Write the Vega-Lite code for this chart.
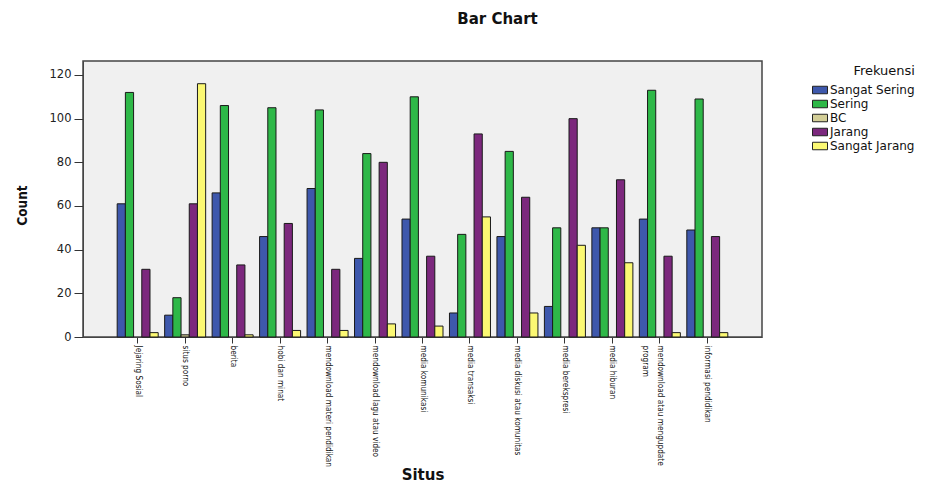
{
  "$schema": "https://vega.github.io/schema/vega-lite/v6.json",
  "width": 679,
  "height": 276,
  "autosize": {"type": "none"},
  "padding": {"left": 83, "top": 61, "right": 190, "bottom": 146},
  "background": "white",
  "title": {
    "text": "Bar Chart",
    "anchor": "middle",
    "frame": "group",
    "dx": 75,
    "offset": 34,
    "font": "DejaVu Sans",
    "fontSize": 15,
    "fontWeight": "bold",
    "color": "#111111"
  },
  "config": {
    "view": {"fill": "#F0F0F0", "stroke": "#444444", "strokeWidth": 1.5},
    "axis": {"grid": false}
  },
  "data": {
    "values": [
      {"situs": "Jejaring Sosial", "frek": "Sangat Sering", "count": 61},
      {"situs": "Jejaring Sosial", "frek": "Sering", "count": 112},
      {"situs": "Jejaring Sosial", "frek": "Jarang", "count": 31},
      {"situs": "Jejaring Sosial", "frek": "Sangat Jarang", "count": 2},
      {"situs": "situs porno", "frek": "Sangat Sering", "count": 10},
      {"situs": "situs porno", "frek": "Sering", "count": 18},
      {"situs": "situs porno", "frek": "BC", "count": 1},
      {"situs": "situs porno", "frek": "Jarang", "count": 61},
      {"situs": "situs porno", "frek": "Sangat Jarang", "count": 116},
      {"situs": "berita", "frek": "Sangat Sering", "count": 66},
      {"situs": "berita", "frek": "Sering", "count": 106},
      {"situs": "berita", "frek": "Jarang", "count": 33},
      {"situs": "berita", "frek": "Sangat Jarang", "count": 1},
      {"situs": "hobi dan minat", "frek": "Sangat Sering", "count": 46},
      {"situs": "hobi dan minat", "frek": "Sering", "count": 105},
      {"situs": "hobi dan minat", "frek": "Jarang", "count": 52},
      {"situs": "hobi dan minat", "frek": "Sangat Jarang", "count": 3},
      {"situs": "mendownload materi pendidikan", "frek": "Sangat Sering", "count": 68},
      {"situs": "mendownload materi pendidikan", "frek": "Sering", "count": 104},
      {"situs": "mendownload materi pendidikan", "frek": "Jarang", "count": 31},
      {"situs": "mendownload materi pendidikan", "frek": "Sangat Jarang", "count": 3},
      {"situs": "mendownload lagu atau video", "frek": "Sangat Sering", "count": 36},
      {"situs": "mendownload lagu atau video", "frek": "Sering", "count": 84},
      {"situs": "mendownload lagu atau video", "frek": "Jarang", "count": 80},
      {"situs": "mendownload lagu atau video", "frek": "Sangat Jarang", "count": 6},
      {"situs": "media komunikasi", "frek": "Sangat Sering", "count": 54},
      {"situs": "media komunikasi", "frek": "Sering", "count": 110},
      {"situs": "media komunikasi", "frek": "Jarang", "count": 37},
      {"situs": "media komunikasi", "frek": "Sangat Jarang", "count": 5},
      {"situs": "media transaksi", "frek": "Sangat Sering", "count": 11},
      {"situs": "media transaksi", "frek": "Sering", "count": 47},
      {"situs": "media transaksi", "frek": "Jarang", "count": 93},
      {"situs": "media transaksi", "frek": "Sangat Jarang", "count": 55},
      {"situs": "media diskusi atau komunitas", "frek": "Sangat Sering", "count": 46},
      {"situs": "media diskusi atau komunitas", "frek": "Sering", "count": 85},
      {"situs": "media diskusi atau komunitas", "frek": "Jarang", "count": 64},
      {"situs": "media diskusi atau komunitas", "frek": "Sangat Jarang", "count": 11},
      {"situs": "media berekspresi", "frek": "Sangat Sering", "count": 14},
      {"situs": "media berekspresi", "frek": "Sering", "count": 50},
      {"situs": "media berekspresi", "frek": "Jarang", "count": 100},
      {"situs": "media berekspresi", "frek": "Sangat Jarang", "count": 42},
      {"situs": "media hiburan", "frek": "Sangat Sering", "count": 50},
      {"situs": "media hiburan", "frek": "Sering", "count": 50},
      {"situs": "media hiburan", "frek": "Jarang", "count": 72},
      {"situs": "media hiburan", "frek": "Sangat Jarang", "count": 34},
      {"situs": "mendownload atau mengupdate program", "frek": "Sangat Sering", "count": 54},
      {"situs": "mendownload atau mengupdate program", "frek": "Sering", "count": 113},
      {"situs": "mendownload atau mengupdate program", "frek": "Jarang", "count": 37},
      {"situs": "mendownload atau mengupdate program", "frek": "Sangat Jarang", "count": 2},
      {"situs": "informasi pendidikan", "frek": "Sangat Sering", "count": 49},
      {"situs": "informasi pendidikan", "frek": "Sering", "count": 109},
      {"situs": "informasi pendidikan", "frek": "Jarang", "count": 46},
      {"situs": "informasi pendidikan", "frek": "Sangat Jarang", "count": 2}
    ]
  },
  "mark": {"type": "bar", "stroke": "#1a1a1a", "strokeWidth": 1},
  "encoding": {
    "x": {
      "field": "situs",
      "type": "nominal",
      "sort": null,
      "scale": {"paddingInner": 0.136, "paddingOuter": 0.72},
      "title": "Situs",
      "axis": {
        "labelAngle": 90,
        "labelFont": "DejaVu Sans Condensed, sans-serif",
        "labelFontSize": 8.2,
        "labelColor": "#111111",
        "labelPadding": 2,
        "labelLimit": 300,
        "labelLineHeight": 15,
        "labelExpr": "datum.label == 'mendownload atau mengupdate program' ? ['mendownload atau mengupdate', 'program'] : datum.label",
        "tickSize": 6,
        "tickColor": "#333333",
        "domainColor": "#444444",
        "titleFont": "DejaVu Sans",
        "titleFontSize": 15,
        "titleFontWeight": "bold",
        "titleColor": "#111111",
        "titleY": 137,
        "titleBaseline": "middle"
      }
    },
    "xOffset": {
      "field": "frek",
      "type": "nominal",
      "scale": {
        "domain": ["Sangat Sering", "Sering", "BC", "Jarang", "Sangat Jarang"],
        "paddingInner": 0,
        "paddingOuter": 0
      }
    },
    "y": {
      "field": "count",
      "type": "quantitative",
      "scale": {"domain": [0, 126.4], "nice": false},
      "title": "Count",
      "axis": {
        "values": [0, 20, 40, 60, 80, 100, 120],
        "labelFont": "DejaVu Sans",
        "labelFontSize": 11.5,
        "labelColor": "#222222",
        "labelPadding": 3,
        "tickSize": 9,
        "tickColor": "#333333",
        "domainColor": "#444444",
        "titleFont": "DejaVu Sans Condensed, sans-serif",
        "titleFontSize": 13.5,
        "titleFontWeight": "bold",
        "titleColor": "#111111",
        "titleAngle": -90,
        "titleX": -61,
        "titleY": 144,
        "titleAlign": "center",
        "titleBaseline": "middle"
      }
    },
    "color": {
      "field": "frek",
      "type": "nominal",
      "title": "Frekuensi",
      "scale": {
        "domain": ["Sangat Sering", "Sering", "BC", "Jarang", "Sangat Jarang"],
        "range": ["#3E58AC", "#2EB848", "#D3CE97", "#7C287D", "#FBF873"]
      },
      "legend": {
        "orient": "none",
        "legendX": 729,
        "legendY": 4,
        "padding": 0,
        "titleFont": "DejaVu Sans",
        "titleFontSize": 13,
        "titleFontWeight": "normal",
        "titleColor": "#111111",
        "titleAnchor": "end",
        "titlePadding": 4,
        "labelFont": "DejaVu Sans",
        "labelFontSize": 12,
        "labelColor": "#111111",
        "labelOffset": 2,
        "rowPadding": -1.5,
        "symbolType": "M-1,-0.5H1V0.5H-1Z",
        "symbolSize": 225,
        "symbolStrokeColor": "#222222",
        "symbolStrokeWidth": 1,
        "symbolOpacity": 1
      }
    }
  }
}
